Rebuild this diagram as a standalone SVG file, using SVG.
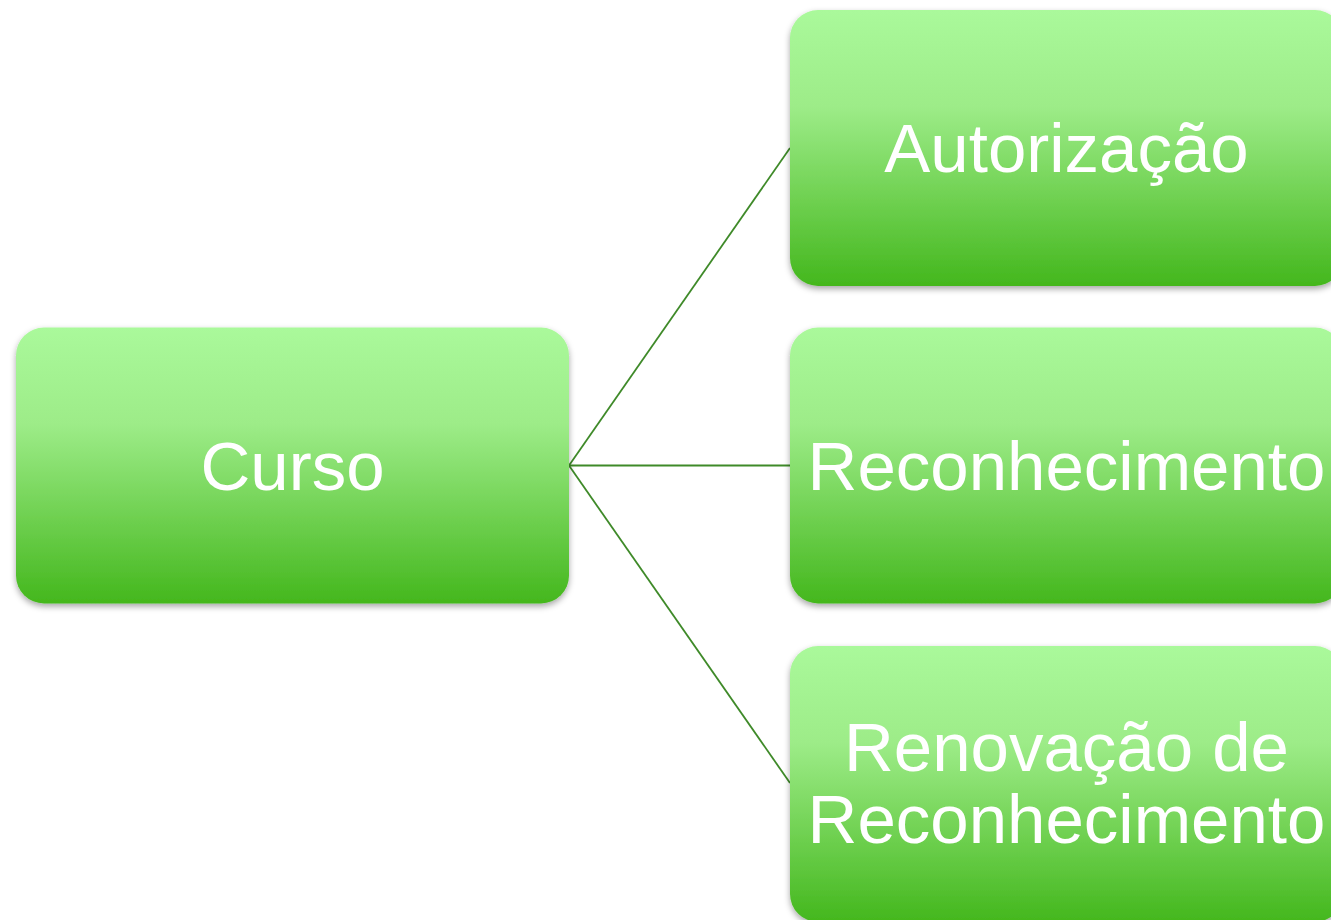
<svg xmlns="http://www.w3.org/2000/svg" width="1331" height="920" viewBox="0 0 1331 920">
<defs>
<linearGradient id="g" x1="0" y1="0" x2="0" y2="1">
<stop offset="0" stop-color="#AAF99B"/>
<stop offset="0.35" stop-color="#9DEC88"/>
<stop offset="1" stop-color="#44B71D"/>
</linearGradient>
<filter id="sh" x="-5%" y="-5%" width="110%" height="115%">
<feDropShadow dx="0" dy="3" stdDeviation="3" flood-color="#000" flood-opacity="0.35"/>
</filter>
<style>
.box{fill:url(#g);filter:url(#sh);}
.lbl{font-family:"Liberation Sans",Arial,sans-serif;font-size:69px;fill:#fff;text-anchor:middle;}
.con{stroke:#3F8A29;stroke-width:1.8;fill:none;}
</style>
</defs>
<g id="connectors">
<line class="con" x1="569" y1="465.5" x2="790" y2="148"/>
<line class="con" x1="569" y1="465.5" x2="790" y2="465.5"/>
<line class="con" x1="569" y1="465.5" x2="790" y2="783"/>
</g>
<g id="curso">
<rect class="box" x="16" y="327.5" width="553" height="276" rx="28"/>
<text class="lbl" x="292.5" y="489.5">Curso</text>
</g>
<g id="autorizacao">
<rect class="box" x="790" y="10" width="553" height="276" rx="28"/>
<text class="lbl" x="1066.5" y="172">Autorização</text>
</g>
<g id="reconhecimento">
<rect class="box" x="790" y="327.5" width="553" height="276" rx="28"/>
<text class="lbl" x="1066.5" y="489.5">Reconhecimento</text>
</g>
<g id="renovacao">
<rect class="box" x="790" y="646" width="553" height="276" rx="28"/>
<text class="lbl" x="1066.5" y="771">Renovação de</text>
<text class="lbl" x="1066.5" y="843">Reconhecimento</text>
</g>
</svg>
